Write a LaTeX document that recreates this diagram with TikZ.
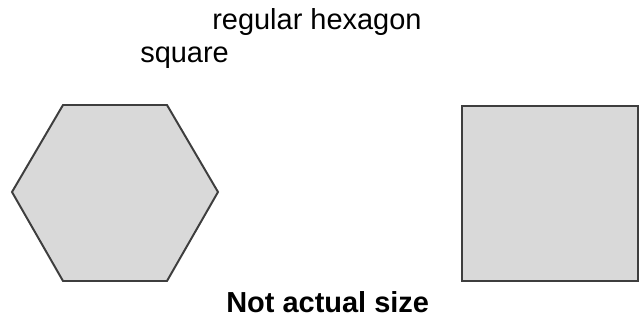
\documentclass[tikz,border=0pt]{standalone}
\usepackage{fontspec}
\setmainfont{Liberation Sans}
\usetikzlibrary{positioning}
\definecolor{ShapeGray}{RGB}{217,217,217}
\definecolor{EdgeGray}{RGB}{62,62,62}

\begin{document}
\begin{tikzpicture}[font=\fontsize{20.6}{24}\selectfont, every node/.style={inner sep=0pt, anchor=base west}]
\tikzset{
  shapefill/.style={draw=EdgeGray, fill=ShapeGray, line width=1.4pt, line join=miter},
  caption/.style={font=\fontsize{20.6}{24}\selectfont\bfseries}
}
  \useasboundingbox (0,0) rectangle (16,8);
  \node (hexlabel) at (5.3,7.25) {regular hexagon};
  \node (sqlabel) at (3.5,6.425) {square};

  \draw[shapefill] (0.3,3.2) -- (1.575,5.375) -- (4.175,5.375) -- (5.45,3.2)
    -- (4.175,0.975) -- (1.575,0.975) -- cycle;
  \draw[shapefill] (11.55,0.975) rectangle (15.95,5.35);

  \node[caption] (note) at (5.65,0.2) {Not actual size};
\end{tikzpicture}
\end{document}
